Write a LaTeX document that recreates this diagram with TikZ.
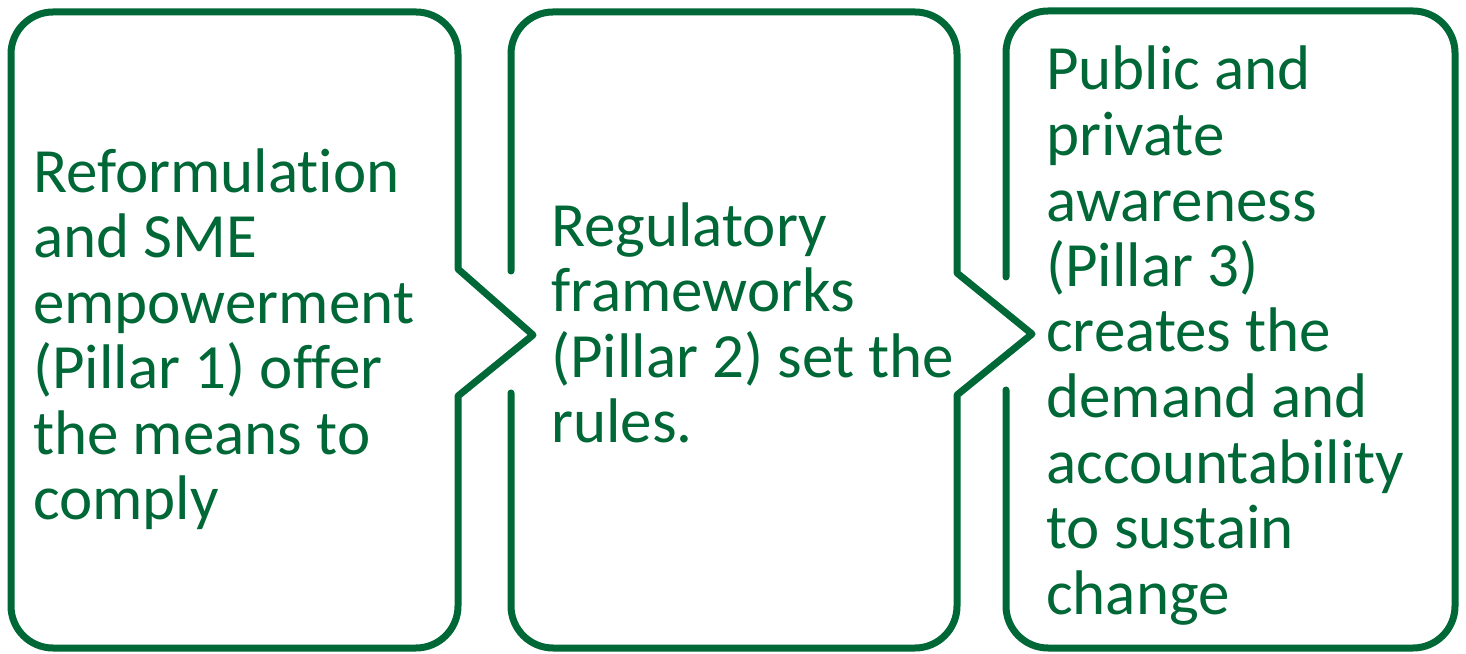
\documentclass[tikz,border=0pt]{standalone}
\usepackage{fontspec}
\setmainfont{Carlito}[RawFeature=-liga]
\definecolor{pgreen}{RGB}{0,104,55}
\begin{document}
\begin{tikzpicture}[x=1pt,y=1pt,
  boxline/.style={draw=pgreen,line width=7pt,line cap=round,line join=round},
  txt/.style={anchor=base west,inner sep=0pt,align=left,text=pgreen,font=\fontsize{63}{65.5}\selectfont}]
\useasboundingbox (0,0) rectangle (1466,653);
% box 1
\draw[boxline] (533,318) -- (458,257) -- (458,47) arc[start angle=0,end angle=-90,radius=42]
  -- (53,5) arc[start angle=270,end angle=180,radius=42]
  -- (11,599) arc[start angle=180,end angle=90,radius=42]
  -- (416,641) arc[start angle=90,end angle=0,radius=42]
  -- (458,384) -- cycle;
% box 2
\draw[boxline] (511,382) -- (511,599) arc[start angle=180,end angle=90,radius=42]
  -- (915,641) arc[start angle=90,end angle=0,radius=42]
  -- (957,380) -- (1032,319) -- (957,258)
  -- (957,47) arc[start angle=0,end angle=-90,radius=42]
  -- (553,5) arc[start angle=270,end angle=180,radius=42]
  -- (511,260);
% box 3
\draw[boxline] (1006,376) -- (1006,600) arc[start angle=180,end angle=90,radius=42]
  -- (1413,642) arc[start angle=90,end angle=0,radius=42]
  -- (1455,47) arc[start angle=0,end angle=-90,radius=42]
  -- (1048,5) arc[start angle=270,end angle=180,radius=42]
  -- (1006,263);
\node[txt] (t1) at (33,133) {Reformulation\\and SME\\empowerment\\(Pillar 1) offer\\the means to\\comply};
\node[txt] (t2) at (551,210) {Regulatory\\frameworks\\(Pillar 2) set the\\rules.};
\node[txt] (t3) at (1046,39) {Public and\\private\\awareness\\(Pillar 3)\\creates the\\demand and\\accountability\\to sustain\\change};
\end{tikzpicture}
\end{document}
